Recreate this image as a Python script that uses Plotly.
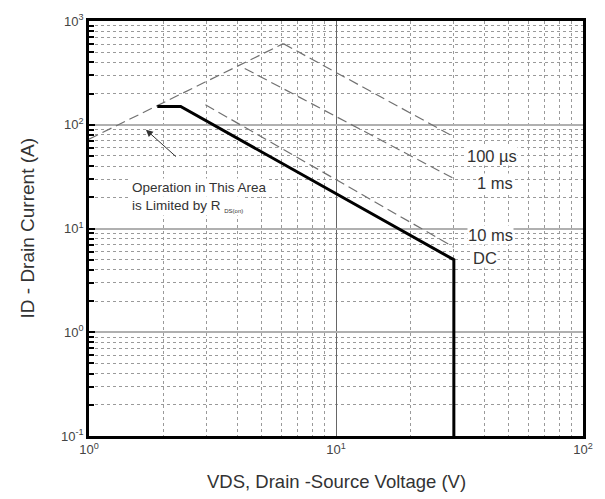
import numpy as np
import plotly.graph_objects as go

# ---- data (V, A) ----
rds_v = [1.0, 6.12]
rds_i = [72.6, 605.0]

us100_v = [6.12, 29.0]
us100_i = [605.0, 80.0]

ms1_v = [4.27, 29.6]
ms1_i = [349.0, 30.8]

ms10_v = [2.96, 30.0]
ms10_i = [156.0, 6.6]

dc_v = [1.89, 2.35, 30.0, 30.0]
dc_i = [150.0, 150.0, 5.0, 0.1]

x_tickvals = [1, 10, 100]
x_ticktext = ["10<sup>0</sup>", "10<sup>1</sup>", "10<sup>2</sup>"]
y_tickvals = [0.1, 1, 10, 100, 1000]
y_ticktext = ["10<sup>-1</sup>", "10<sup>0</sup>", "10<sup>1</sup>", "10<sup>2</sup>", "10<sup>3</sup>"]

FONT = "Liberation Sans, Arial, sans-serif"
dash_style = dict(color="#707070", width=1.2, dash="10px,5px")

fig = go.Figure()
fig.add_trace(go.Scatter(x=rds_v, y=rds_i, mode="lines", line=dash_style, showlegend=False))
fig.add_trace(go.Scatter(x=us100_v, y=us100_i, mode="lines", line=dash_style, showlegend=False))
fig.add_trace(go.Scatter(x=ms1_v, y=ms1_i, mode="lines", line=dash_style, showlegend=False))
fig.add_trace(go.Scatter(x=ms10_v, y=ms10_i, mode="lines", line=dash_style, showlegend=False))
fig.add_trace(go.Scatter(x=dc_v, y=dc_i, mode="lines", line=dict(color="black", width=3), showlegend=False))

L = np.log10
label_font = dict(family=FONT, size=16.5, color="#333")
for txt, xv, yv in [("100 \u00b5s", 42.9, 49.7), ("1 ms", 44.1, 27.4),
                    ("10 ms", 42.1, 8.69), ("DC", 40.2, 5.22)]:
    fig.add_annotation(x=L(xv), y=L(yv), xref="x", yref="y", text=txt, showarrow=False,
                       font=label_font, bgcolor="white", xanchor="center", yanchor="middle",
                       borderpad=0)

note_font = dict(family=FONT, size=13.5, color="#333")
fig.add_annotation(x=L(1.46), y=L(24.7), xref="x", yref="y", text="Operation in This Area",
                   showarrow=False, font=note_font, xanchor="left", yanchor="middle", bgcolor="white")
fig.add_annotation(x=L(1.46), y=L(16.5), xref="x", yref="y",
                   text="is Limited by R <sub><span style='font-size:6px'>DS(on)</span></sub>",
                   showarrow=False, font=note_font, xanchor="left", yanchor="middle", bgcolor="white")
# arrow
fig.add_annotation(x=L(1.70), y=L(89.6), ax=L(2.28), ay=L(47.9), xref="x", yref="y",
                   axref="x", ayref="y", text="", showarrow=True, arrowhead=2, arrowsize=1.4,
                   arrowwidth=1, arrowcolor="#333")

# axis titles
fig.add_annotation(x=0.5, y=0, xref="paper", yref="paper", yshift=-45, showarrow=False,
                   text="VDS, Drain -Source Voltage (V)", font=dict(family=FONT, size=18.5, color="#333"),
                   xanchor="center", yanchor="middle")
fig.add_annotation(x=0, y=0.5, xref="paper", yref="paper", xshift=-62, showarrow=False,
                   text="ID - Drain Current (A)", textangle=-90,
                   font=dict(family=FONT, size=19, color="#333"), xanchor="center", yanchor="middle")

fig.update_xaxes(type="log", range=[0, 2], tickvals=x_tickvals, ticktext=x_ticktext,
                 showline=True, linecolor="black", linewidth=2.5, mirror=True,
                 showgrid=True, gridcolor="#666", gridwidth=1, zeroline=False,
                 ticks="", tickfont=dict(family=FONT, size=13, color="#444"),
                 minor=dict(dtick="D1", showgrid=True, gridcolor="#9a9a9a", griddash="dot",
                            gridwidth=1, ticks=""))
fig.update_yaxes(type="log", range=[-1, 3], tickvals=y_tickvals, ticktext=y_ticktext,
                 showline=True, linecolor="black", linewidth=2.5, mirror=True,
                 showgrid=True, gridcolor="#b0b0b0", gridwidth=2, zeroline=False,
                 ticks="inside", ticklen=6, tickwidth=2, tickcolor="black",
                 tickfont=dict(family=FONT, size=13, color="#444"),
                 minor=dict(dtick="D1", showgrid=True, gridcolor="#9a9a9a", griddash="dot",
                            gridwidth=1, ticks="inside", ticklen=5, tickwidth=2, tickcolor="black"))

fig.update_layout(width=605, height=499, margin=dict(l=89, r=16, t=19, b=63),
                  plot_bgcolor="white", paper_bgcolor="white", showlegend=False)

# remove the default page margin so the figure sits at the window's top-left corner
fig.write_html("out.html", config={"displayModeBar": False},
               post_script="document.body.style.margin='0';document.body.style.overflow='hidden';")
